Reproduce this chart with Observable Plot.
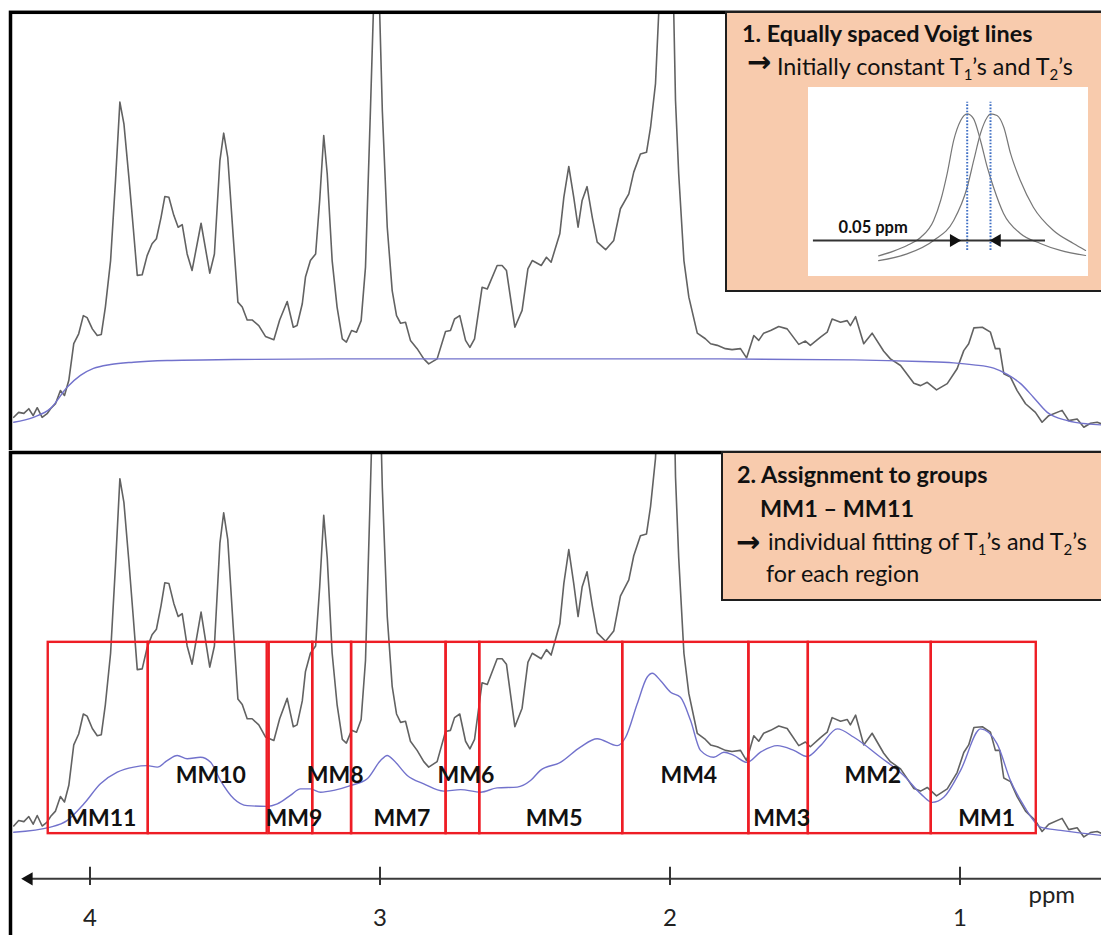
<!DOCTYPE html>
<html>
<head>
<meta charset="utf-8">
<script src="https://cdn.jsdelivr.net/npm/d3@7"></script>
<script src="https://cdn.jsdelivr.net/npm/@observablehq/plot@0.6"></script>
<style>
  html, body { margin: 0; padding: 0; background: #fff; overflow: hidden; }
  #root { position: relative; width: 1101px; height: 935px; overflow: hidden; font-family: Lato, "Open Sans", sans-serif; }
  .layer { position: absolute; }
  .box { position: absolute; background: #F8CBAD; border: 2px solid #1e1e1e; box-sizing: border-box; }
</style>
</head>
<body>
<div id="root"></div>
<script>
// ---------------- data ----------------
// chemical shift axis (ppm) tick labels
const axisTicks = [4, 3, 2, 1];

// measured macromolecule spectrum (ppm, arbitrary intensity)
const spectrumPpm = [4.263,4.246,4.228,4.211,4.196,4.182,4.165,4.148,4.136,4.119,4.102,4.088,4.073,4.056,4.039,4.023,4.010,3.992,3.975,3.961,3.947,3.929,3.912,3.897,3.883,3.866,3.851,3.837,3.820,3.803,3.786,3.771,3.755,3.742,3.728,3.711,3.696,3.682,3.665,3.648,3.617,3.587,3.571,3.552,3.539,3.525,3.506,3.490,3.475,3.458,3.441,3.418,3.395,3.366,3.346,3.320,3.299,3.286,3.268,3.257,3.240,3.222,3.208,3.194,3.182,3.165,3.148,3.130,3.116,3.098,3.081,3.065,3.050,3.033,3.023,3.014,3.001,2.992,2.975,2.958,2.943,2.929,2.912,2.895,2.872,2.849,2.832,2.803,2.774,2.757,2.743,2.725,2.705,2.690,2.674,2.648,2.630,2.596,2.579,2.564,2.535,2.510,2.490,2.475,2.444,2.426,2.410,2.380,2.366,2.349,2.332,2.317,2.303,2.286,2.268,2.251,2.222,2.194,2.171,2.142,2.125,2.102,2.081,2.067,2.050,2.039,2.012,1.987,1.981,1.970,1.952,1.935,1.906,1.878,1.860,1.837,1.809,1.786,1.757,1.736,1.711,1.694,1.677,1.653,1.625,1.596,1.556,1.533,1.516,1.481,1.458,1.441,1.412,1.389,1.378,1.360,1.332,1.303,1.263,1.240,1.205,1.159,1.136,1.113,1.081,1.044,1.010,0.987,0.970,0.952,0.923,0.895,0.878,0.863,0.849,0.826,0.803,0.774,0.740,0.717,0.694,0.648,0.625,0.596,0.573,0.550,0.527,0.512];
const spectrumAmp = [4.0,5.5,5.2,6.6,4.5,6.9,4.0,5.1,6.6,8.1,12.1,10.6,15.2,26.3,29.3,34.8,34.2,30.8,28.8,29.1,37.4,51.5,75.8,99.5,92.9,76.8,61.6,47.0,47.2,53.0,56.6,58.1,64.6,70.9,70.7,65.2,61.6,62.4,53.5,48.5,62.8,47.7,53.5,81.8,90.1,82.8,58.6,38.9,37.4,33.5,33.5,31.8,28.5,27.5,33.5,39.1,31.3,31.8,38.4,46.5,51.5,53.5,69.7,89.4,77.8,51.5,37.4,27.8,26.8,30.3,29.8,33.3,49.5,97.0,126.4,150,126.4,97.0,61.6,42.4,34.8,32.5,32.8,27.3,24.8,21.7,20.2,21.7,30.0,30.3,33.8,34.8,27.3,25.2,27.8,43.4,42.9,50.0,50.0,48.5,31.3,36.4,49.0,51.5,50.0,52.5,51.0,59.6,70.7,80.0,70.7,61.6,69.7,73.9,64.6,57.1,54.8,57.6,67.2,71.7,78.3,83.8,84.3,91.9,105.1,126.3,220,126.3,100.0,77.8,51.5,40.4,29.5,27.8,26.3,25.8,24.8,24.5,24.8,22.0,28.8,27.3,29.5,30.3,31.5,30.8,26.1,27.1,25.8,28.3,29.8,33.8,32.8,33.3,31.8,34.5,26.3,29.5,24.0,21.7,19.7,14.3,13.6,14.6,12.3,14.2,18.7,24.2,26.3,31.1,31.3,29.8,24.8,24.8,17.2,16.2,12.1,8.1,5.5,2.5,4.5,6.1,3.0,3.5,1.0,2.2,2.5,2.0];

// panel 1: initial model with constant T1/T2 (blue)
const initialPpm = [4.263,4.195,4.136,4.079,4.033,3.988,3.929,3.850,3.734,3.505,3.160,2.584,1.826,1.367,1.136,1.022,0.953,0.884,0.837,0.791,0.747,0.699,0.630,0.561,0.512];
const initialAmp = [2.5,4.0,6.7,13.1,16.7,18.8,20.0,20.7,21.2,21.5,21.7,21.7,21.7,21.4,20.9,20.5,19.9,18.9,17.0,14.2,10.1,5.5,3.0,2.0,1.7];

// panel 2: fit after assignment to groups (blue)
const fitPpm = [4.263,4.136,4.079,4.021,3.964,3.906,3.849,3.803,3.768,3.734,3.699,3.665,3.619,3.584,3.550,3.504,3.458,3.389,3.354,3.309,3.274,3.240,3.205,3.159,3.102,3.044,2.998,2.975,2.952,2.906,2.849,2.780,2.722,2.653,2.596,2.527,2.481,2.447,2.378,2.309,2.251,2.182,2.153,2.113,2.079,2.061,2.033,1.998,1.964,1.929,1.895,1.849,1.814,1.780,1.734,1.688,1.630,1.573,1.527,1.481,1.423,1.366,1.274,1.194,1.136,1.096,1.056,0.998,0.929,0.872,0.826,0.780,0.722,0.653,0.512];
const fitAmp = [2.3,3.7,5.5,10.1,15.6,18.8,20.2,20.6,20.2,22.0,23.4,22.5,22.9,21.5,16.5,11.5,9.6,9.4,10.1,12.4,14.2,14.2,13.3,13.8,15.1,17.0,22.0,23.4,22.0,17.9,15.6,13.6,14.0,13.3,14.5,14.7,16.5,19.3,21.5,25.7,28.0,26.1,28.4,37.6,44.9,46.0,44.0,40.8,39.4,33.0,24.8,22.9,24.3,23.4,21.5,24.3,26.1,24.8,23.1,26.1,30.7,28.4,22.9,17.9,12.9,10.5,11.9,19.3,30.7,26.6,16.5,9.6,3.7,2.8,1.4];

// macromolecule groups (ppm ranges)
const regionNames = ["MM11","MM10","MM9","MM8","MM7","MM6","MM5","MM4","MM3","MM2","MM1"];
const regionStart = [4.144,3.799,3.382,3.232,3.098,2.772,2.656,2.163,1.728,1.523,1.099];
const regionEnd   = [3.799,3.389,3.232,3.098,2.772,2.656,2.163,1.728,1.523,1.099,0.737];
const regionTopAmp = 54.5, regionBottomAmp = 1.9;
const labelHighAmp = 15.7, labelLowAmp = 4.1;

// inset: two equally spaced Voigt lines (offset in ppm, relative height)
const lineCentres = [0, 0.05];
const voigtAOffset = [-0.190,-0.158,-0.129,-0.100,-0.072,-0.057,-0.043,-0.029,-0.014,0,0.0135,0.0285,0.043,0.0565,0.078,0.114,0.157,0.200,0.254];
const voigtAHeight = [0.046,0.078,0.116,0.170,0.284,0.418,0.599,0.821,0.955,1,0.968,0.821,0.642,0.507,0.331,0.197,0.130,0.083,0.049];
const voigtBOffset = [-0.190,-0.129,-0.072,-0.029,0,0.014,0.0285,0.043,0.05,0.064,0.0785,0.093,0.114,0.142,0.185,0.228,0.254];
const voigtBHeight = [0.015,0.060,0.150,0.284,0.507,0.687,0.868,0.977,1.0,0.989,0.910,0.734,0.552,0.373,0.217,0.130,0.083];

// ---------------- build ----------------
const zip = (a, b) => a.map((v, i) => ({ppm: v, amp: b[i]}));
const spectrum = zip(spectrumPpm, spectrumAmp);
const initial = zip(initialPpm, initialAmp);
const fit = zip(fitPpm, fitAmp);
const regions = regionNames.map((name, i) => ({name, start: regionStart[i], end: regionEnd[i], n: +name.slice(2)}));
const voigtA = voigtAOffset.map((o, i) => ({o, h: voigtAHeight[i]}));
const voigtB = voigtBOffset.map((o, i) => ({o, h: voigtBHeight[i]}));

const W = 1101;
const FONT = "Lato, 'Open Sans', sans-serif";
const GRAY = "#626262", BLUE = "#7272cc", RED = "#ee1d25";
const xScale = {domain: [4, 1], range: [89.5, 959.5], axis: null};

const root = document.getElementById("root");
function place(node, left, top) {
  const d = document.createElement("div");
  d.className = "layer";
  d.style.left = left + "px";
  d.style.top = top + "px";
  d.appendChild(node);
  root.appendChild(d);
}

// panel 1
const topPlot = Plot.plot({
  width: W, height: 450,
  marginLeft: 10, marginTop: 11.8, marginRight: -10, marginBottom: -10,
  x: xScale,
  y: {domain: [0, 100], range: [430, 100], axis: null},
  style: {background: "white", fontFamily: FONT},
  marks: [
    Plot.line(spectrum, {x: "ppm", y: "amp", stroke: GRAY, strokeWidth: 1.6, strokeLinejoin: "round", clip: true}),
    Plot.line(initial, {x: "ppm", y: "amp", stroke: BLUE, strokeWidth: 1.4, curve: "monotone-x", clip: true}),
    Plot.frame({stroke: "#000", strokeWidth: 3.5})
  ]
});
place(topPlot, 0, 0);

// panel 2
const bottomPlot = Plot.plot({
  width: W, height: 485,
  marginLeft: 10, marginTop: 2, marginRight: -10, marginBottom: -10,
  x: xScale,
  y: {domain: [0, 100], range: [390.06, 26.36], axis: null},
  style: {background: "white", fontFamily: FONT},
  marks: [
    Plot.line(spectrum, {x: "ppm", y: "amp", stroke: GRAY, strokeWidth: 1.6, strokeLinejoin: "round", clip: true}),
    Plot.line(fit, {x: "ppm", y: "amp", stroke: BLUE, strokeWidth: 1.4, curve: "monotone-x", clip: true}),
    Plot.rect(regions, {x1: "start", x2: "end", y1: regionBottomAmp, y2: regionTopAmp, fill: "none", stroke: RED, strokeWidth: 2.4}),
    Plot.text(regions, {
      x: d => (d.start + d.end) / 2,
      y: d => d.n % 2 === 0 ? labelHighAmp : labelLowAmp,
      text: "name", dx: 3, lineAnchor: "bottom", textAnchor: "middle",
      fontWeight: "bold", fontSize: 23, fill: "#111"
    }),
    Plot.frame({stroke: "#000", strokeWidth: 3.5})
  ]
});
place(bottomPlot, 0, 450);

// ppm axis
const axisPlot = Plot.plot({
  width: W, height: 83,
  marginLeft: 10, marginTop: 0, marginRight: 0, marginBottom: 68.3,
  x: xScale,
  y: {domain: [0, 1], axis: null},
  style: {background: "transparent", fontFamily: FONT, fontSize: "24px", color: "#222"},
  marks: [
    Plot.ruleY([0], {x1: 4.211, x2: 0.40, dy: 11.6, stroke: "#3a3a3a", strokeWidth: 2}),
    Plot.dot([4.211], {x: d => d, y: 0, dy: 11.6, symbol: "triangle", r: 4.9, rotate: -90, fill: "#111", stroke: "none"}),
    Plot.axisX(axisTicks, {anchor: "bottom", tickSize: 18.3, tickPadding: 23, stroke: "#333", strokeWidth: 2, tickFormat: d => String(d)}),
    Plot.text(["ppm"], {x: 0.764, y: 0, dy: 35.3, text: d => d, textAnchor: "start", lineAnchor: "bottom", fontSize: 24, fill: "#222"})
  ]
});
place(axisPlot, 0, 852);

// annotation boxes
root.insertAdjacentHTML("beforeend",
  '<div class="box" style="left:725px;top:11px;width:400px;height:281px"></div>' +
  '<div class="box" style="left:720.5px;top:451px;width:400px;height:150px"></div>');

// inset schematic
const inset = Plot.plot({
  width: 280, height: 189,
  margin: 0,
  x: {domain: [0, 0.05], range: [158.7, 182], axis: null},
  y: {domain: [0, 1], range: [175.3, 26.3], axis: null},
  style: {background: "white", fontFamily: FONT},
  marks: [
    Plot.line(voigtA, {x: "o", y: "h", stroke: "#777", strokeWidth: 1.2, curve: "monotone-x"}),
    Plot.line(voigtB, {x: "o", y: "h", stroke: "#777", strokeWidth: 1.2, curve: "monotone-x"}),
    Plot.ruleX(lineCentres, {y1: 0.083, y2: 1.078, stroke: "#3f6fc4", strokeWidth: 2, strokeDasharray: "1.6,1.6"}),
    Plot.ruleY([0.150], {x1: -0.330, x2: 0.168, stroke: "#333", strokeWidth: 2}),
    Plot.dot([{o: -0.029, a: 90}, {o: 0.064, a: -90}], {x: "o", y: 0.150, rotate: "a", symbol: "triangle", r: 4.8, fill: "#111", stroke: "none"}),
    Plot.text(["0.05 ppm"], {x: -0.276, y: 0.197, text: d => d, textAnchor: "start", lineAnchor: "bottom", fontWeight: "bold", fontSize: 16.5, fill: "#111"})
  ]
});
place(inset, 808, 87);

// box texts
const SUB = '<tspan dy="4.5" font-size="15">';
root.insertAdjacentHTML("beforeend",
  '<svg class="layer" style="left:0;top:0" width="1101" height="935" font-family="Lato, \'Open Sans\', sans-serif" fill="#111">' +
  '<text x="742" y="42" font-size="23.4" font-weight="700">1. Equally spaced Voigt lines</text>' +
  '<text x="747" y="72" font-size="29" font-weight="700" font-family="DejaVu Sans">→</text>' +
  '<text x="777" y="75" font-size="23.3">Initially constant T' + SUB + '1</tspan><tspan dy="-4.5">’s and T</tspan>' + SUB + '2</tspan><tspan dy="-4.5">’s</tspan></text>' +
  '<text x="737" y="483" font-size="23.4" font-weight="700">2. Assignment to groups</text>' +
  '<text x="760" y="517" font-size="23.4" font-weight="700">MM1 – MM11</text>' +
  '<text x="736" y="552" font-size="29" font-weight="700" font-family="DejaVu Sans">→</text>' +
  '<text x="768" y="550" font-size="23.3">individual fitting of T' + SUB + '1</tspan><tspan dy="-4.5">’s and T</tspan>' + SUB + '2</tspan><tspan dy="-4.5">’s</tspan></text>' +
  '<text x="766" y="582" font-size="23.3">for each region</text>' +
  '</svg>');
</script>
</body>
</html>
